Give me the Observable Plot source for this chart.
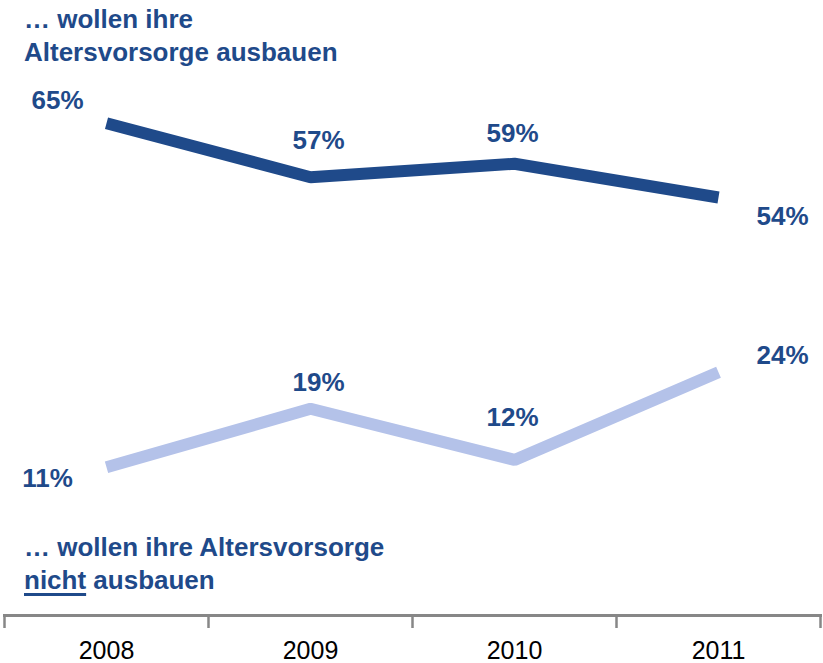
<!DOCTYPE html>
<html><head><meta charset="utf-8">
<script src="https://cdn.jsdelivr.net/npm/d3@7"></script>
<script src="https://cdn.jsdelivr.net/npm/@observablehq/plot@0.6"></script>
<style>
body{margin:0;background:#fff;}
#wrap{position:relative;width:823px;height:663px;font-family:"Liberation Sans",Arial,sans-serif;}
#wrap svg{position:absolute;left:0;top:0;}
.note{position:absolute;left:24px;color:#1F4A8A;font-weight:bold;font-size:26px;line-height:33px;white-space:nowrap;z-index:2;}
.note u{text-decoration-thickness:3px;text-underline-offset:4px;}
</style></head><body>
<div id="wrap">
<div class="note" style="top:3px">… wollen ihre<br>Altersvorsorge ausbauen</div>
<div class="note" style="top:531px">… wollen ihre Altersvorsorge<br><u>nicht</u> ausbauen</div>
</div>
<script>
// data
const years = [2008, 2009, 2010, 2011];
const ausbauen = [65, 57, 59, 54];
const nichtAusbauen = [11, 19, 12, 24];
const seriesNames = ["ausbauen", "nicht ausbauen"];
const seriesColors = ["#1F4A8A", "#B4C2E9"];

// label offsets (placement only)
const labelOffsets = {
  "ausbauen": [[-49, -23], [8, -37], [-2, -30], [64, 19]],
  "nicht ausbauen": [[-59, 11], [8, -26], [-2, -42], [64, -17]]
};

const rows = [];
years.forEach((yr, i) => {
  rows.push({year: yr, value: ausbauen[i], series: seriesNames[0], i});
  rows.push({year: yr, value: nichtAusbauen[i], series: seriesNames[1], i});
});

const boundaries = [...years.map(y => y - 0.5), years[years.length - 1] + 0.5];

const labelMarks = rows.map(d => {
  const [dx, dy] = labelOffsets[d.series][d.i];
  return Plot.text([d], {
    x: "year", y: "value", text: d => d.value + "%",
    dx, dy, fill: "#1F4A8A", fontWeight: "bold", fontSize: 26,
    fontFamily: "Liberation Sans, Arial, sans-serif"
  });
});

const chart = Plot.plot({
  width: 823,
  height: 663,
  marginLeft: 4,
  marginRight: 3,
  marginTop: 0,
  marginBottom: 48,
  style: {fontFamily: "Liberation Sans, Arial, sans-serif", background: "transparent"},
  x: {type: "linear", domain: [boundaries[0], boundaries[boundaries.length - 1]], axis: null},
  y: {type: "linear", domain: [0, 30, 50, 70], range: [547, 328, 224, 89], axis: null},
  color: {domain: seriesNames, range: seriesColors},
  marks: [
    Plot.frame({anchor: "bottom", stroke: "#878787", strokeWidth: 3}),
    Plot.axisX({ticks: boundaries, tickFormat: () => "", tickSize: 13, stroke: "#878787", strokeWidth: 2.5, label: null}),
    Plot.axisX({ticks: years, tickSize: 0, tickPadding: 26, tickFormat: d => String(d), fontSize: 25, fill: "#000", label: null}),
    Plot.line(rows, {x: "year", y: "value", z: "series", stroke: "series", strokeWidth: 12, strokeLinecap: "butt", strokeLinejoin: "miter"}),
    ...labelMarks
  ]
});
document.getElementById("wrap").appendChild(chart);
</script>
</body></html>
